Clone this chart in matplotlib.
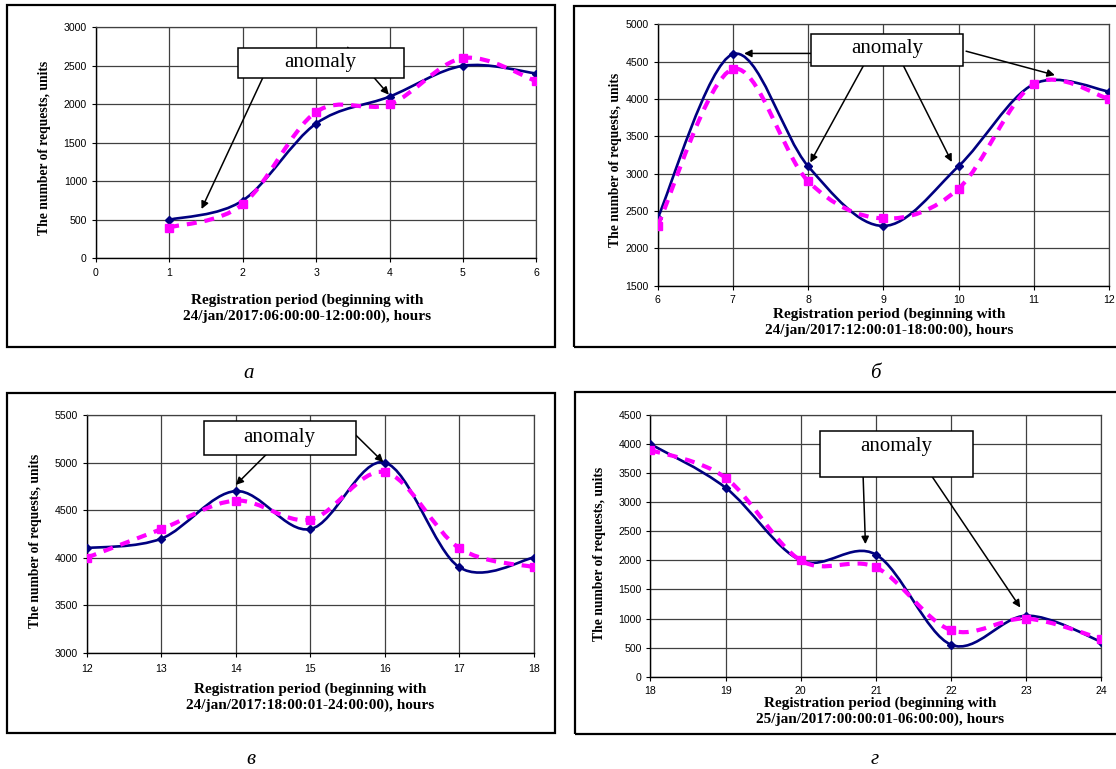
import matplotlib
matplotlib.use("Agg")
import matplotlib.pyplot as plt
from matplotlib.path import Path
from matplotlib.patches import PathPatch, Rectangle


FIG_W = 1116
FIG_H = 769

# panel а
HOURS_A = [1, 2, 3, 4, 5, 6]
REAL_A = [500, 750, 1750, 2100, 2500, 2400]
MODEL_A = [400, 700, 1900, 2000, 2600, 2300]
XLABEL_A = "Registration period (beginning with\n24/jan/2017:06:00:00-12:00:00), hours"

# panel б
HOURS_B = [6, 7, 8, 9, 10, 11, 12]
REAL_B = [2400, 4600, 3100, 2300, 3100, 4200, 4100]
MODEL_B = [2300, 4400, 2900, 2400, 2800, 4200, 4000]
XLABEL_B = "Registration period (beginning with\n24/jan/2017:12:00:01-18:00:00), hours"

# panel в
HOURS_C = [12, 13, 14, 15, 16, 17, 18]
REAL_C = [4100, 4200, 4700, 4300, 5000, 3900, 4000]
MODEL_C = [4000, 4300, 4600, 4400, 4900, 4100, 3900]
XLABEL_C = "Registration period (beginning with\n24/jan/2017:18:00:01-24:00:00), hours"

# panel г
HOURS_D = [18, 19, 20, 21, 22, 23, 24]
REAL_D = [4000, 3250, 2000, 2100, 550, 1050, 600]
MODEL_D = [3900, 3420, 2000, 1880, 800, 1000, 650]
XLABEL_D = "Registration period (beginning with\n25/jan/2017:00:00:01-06:00:00), hours"

YLABEL = "The number of requests, units"
CAPTIONS = ["а", "б", "в", "г"]

BLUE = "#000080"
PINK = "#FF00FF"
GRID = "#404040"


def px(x, y):
    """Convert pixel position (from top-left) to figure fraction."""
    return x / FIG_W, 1 - y / FIG_H


def smooth_path(xs, ys):
    """Excel-like smoothed line as a cubic Bezier path through the points."""
    pts = list(zip(xs, ys))
    n = len(pts)
    verts = [pts[0]]
    codes = [Path.MOVETO]
    for i in range(n - 1):
        p0 = pts[max(i - 1, 0)]
        p1 = pts[i]
        p2 = pts[i + 1]
        p3 = pts[min(i + 2, n - 1)]
        c1 = (p1[0] + (p2[0] - p0[0]) / 6, p1[1] + (p2[1] - p0[1]) / 6)
        c2 = (p2[0] - (p3[0] - p1[0]) / 6, p2[1] - (p3[1] - p1[1]) / 6)
        verts += [c1, c2, p2]
        codes += [Path.CURVE4] * 3
    return Path(verts, codes)


def draw_panel(fig, rect, hours, real, model, xlim, ylim, xpad):
    ax = fig.add_axes(rect)
    ax.set_xlim(*xlim)
    ax.set_ylim(*ylim)
    ax.set_xticks(range(xlim[0], xlim[1] + 1))
    ax.set_yticks(range(ylim[0], ylim[1] + 1, 500))

    ax.grid(True, color=GRID, lw=0.9)
    ax.set_axisbelow(True)
    for side in ["top", "right"]:
        ax.spines[side].set_color(GRID)
        ax.spines[side].set_linewidth(0.9)
    for side in ["left", "bottom"]:
        ax.spines[side].set_color("black")
        ax.spines[side].set_linewidth(1.0)

    ax.tick_params(direction="out", length=3, width=0.8, labelsize=7.6)
    ax.tick_params(axis="x", pad=xpad)
    ax.tick_params(axis="y", pad=3.4)
    for label in ax.get_xticklabels() + ax.get_yticklabels():
        label.set_fontfamily("Liberation Sans")

    # real traffic: solid navy smoothed line with diamonds
    ax.add_patch(PathPatch(smooth_path(hours, real), fill=False,
                           ec=BLUE, lw=1.9, zorder=3))
    ax.plot(hours, real, linestyle="none", marker="D", ms=4.5,
            color=BLUE, zorder=3)

    # model: dashed magenta smoothed line with squares
    ax.add_patch(PathPatch(smooth_path(hours, model), fill=False,
                           ec=PINK, lw=3.0, linestyle=(0, (2.4, 1.9)),
                           capstyle="butt", zorder=4))
    ax.plot(hours, model, linestyle="none", marker="s", ms=6,
            color=PINK, zorder=4)
    return ax


def add_anomaly(ax, box_xy, box_w, box_h, text_xy, arrows):
    """White box with the word 'anomaly' and arrows pointing at points."""
    for start, tip in arrows:
        ax.annotate("", xy=tip, xytext=start,
                    arrowprops=dict(arrowstyle="-|>", color="black", lw=1.1,
                                    mutation_scale=11, shrinkA=0, shrinkB=0),
                    zorder=5, annotation_clip=False)
    ax.add_patch(Rectangle(box_xy, box_w, box_h, facecolor="white",
                           edgecolor="black", lw=1.1, zorder=6, clip_on=False))
    ax.text(text_xy[0], text_xy[1], "anomaly", ha="center", va="center",
            fontsize=15, family="Liberation Serif", zorder=7)


def add_labels(fig, ylabel_pos, xlabel_pos, xlabel):
    fig.text(*px(*ylabel_pos), YLABEL, rotation=90, ha="center", va="center",
             fontsize=9.8, fontweight="bold", family="Liberation Serif")
    fig.text(*px(*xlabel_pos), xlabel, ha="center", va="center",
             fontsize=11, fontweight="bold", family="Liberation Serif",
             linespacing=1.2, zorder=10)


def add_frame(fig, x0, y0, x1, y1):
    fx0, fy1 = px(x0, y0)
    fx1, fy0 = px(x1, y1)
    fig.add_artist(Rectangle((fx0, fy0), fx1 - fx0, fy1 - fy0,
                             transform=fig.transFigure, fill=False,
                             ec="black", lw=1.6))


def main():
    fig = plt.figure(figsize=(FIG_W / 100, FIG_H / 100), dpi=100)

    # outer frames around each chart
    add_frame(fig, 7, 5, 555, 347)
    add_frame(fig, 574, 6, 1122, 347)
    add_frame(fig, 7, 393, 555, 733)
    add_frame(fig, 575, 392, 1122, 734)

    # а
    ax_a = draw_panel(fig, [0.0858, 0.6641, 0.3949, 0.3004],
                      HOURS_A, REAL_A, MODEL_A, (0, 6), (0, 3000), 4.3)
    add_anomaly(ax_a, (1.93, 2338), 2.26, 389, (3.06, 2540),
                [((2.35, 2500), (1.44, 640)),
                 ((3.43, 2740), (3.99, 2125))])
    add_labels(fig, (44.6, 148), (307, 308), XLABEL_A)

    # б  (x label sits just under the tick labels)
    ax_b = draw_panel(fig, [0.5892, 0.6285, 0.4046, 0.3399],
                      HOURS_B, REAL_B, MODEL_B, (6, 12), (1500, 5000), 3.6)
    add_anomaly(ax_b, (8.04, 4439), 2.02, 437, (9.05, 4670),
                [((8.10, 4610), (7.15, 4610)),
                 ((8.82, 4600), (8.03, 3150)),
                 ((9.19, 4600), (9.91, 3156)),
                 ((10.10, 4640), (11.28, 4319))])
    add_labels(fig, (616, 160), (889, 322), XLABEL_B)

    # в
    ax_c = draw_panel(fig, [0.0778, 0.1512, 0.4004, 0.3091],
                      HOURS_C, REAL_C, MODEL_C, (12, 18), (3000, 5500), 5.0)
    add_anomaly(ax_c, (13.57, 5080), 2.04, 357, (14.59, 5265),
                [((14.62, 5250), (14.0, 4765)),
                 ((15.50, 5375), (15.98, 5005))])
    add_labels(fig, (36, 541), (310, 697.5), XLABEL_C)

    # г
    ax_d = draw_panel(fig, [0.5828, 0.1200, 0.4042, 0.3403],
                      HOURS_D, REAL_D, MODEL_D, (18, 24), (0, 4500), 3.6)
    add_anomaly(ax_d, (20.25, 3430), 2.04, 800, (21.27, 3955),
                [((20.82, 3800), (20.86, 2280)),
                 ((21.56, 3800), (22.92, 1190))])
    add_labels(fig, (599, 554), (880, 711.5), XLABEL_D)

    # panel captions
    for caption, pos in zip(CAPTIONS, [(249, 373), (875, 373),
                                       (251, 759), (875, 759)]):
        fig.text(*px(*pos), caption, ha="center", va="center", fontsize=15,
                 style="italic", family="Liberation Serif")

    fig.savefig("out.png", dpi=100)
    plt.close(fig)


if __name__ == "__main__":
    main()
